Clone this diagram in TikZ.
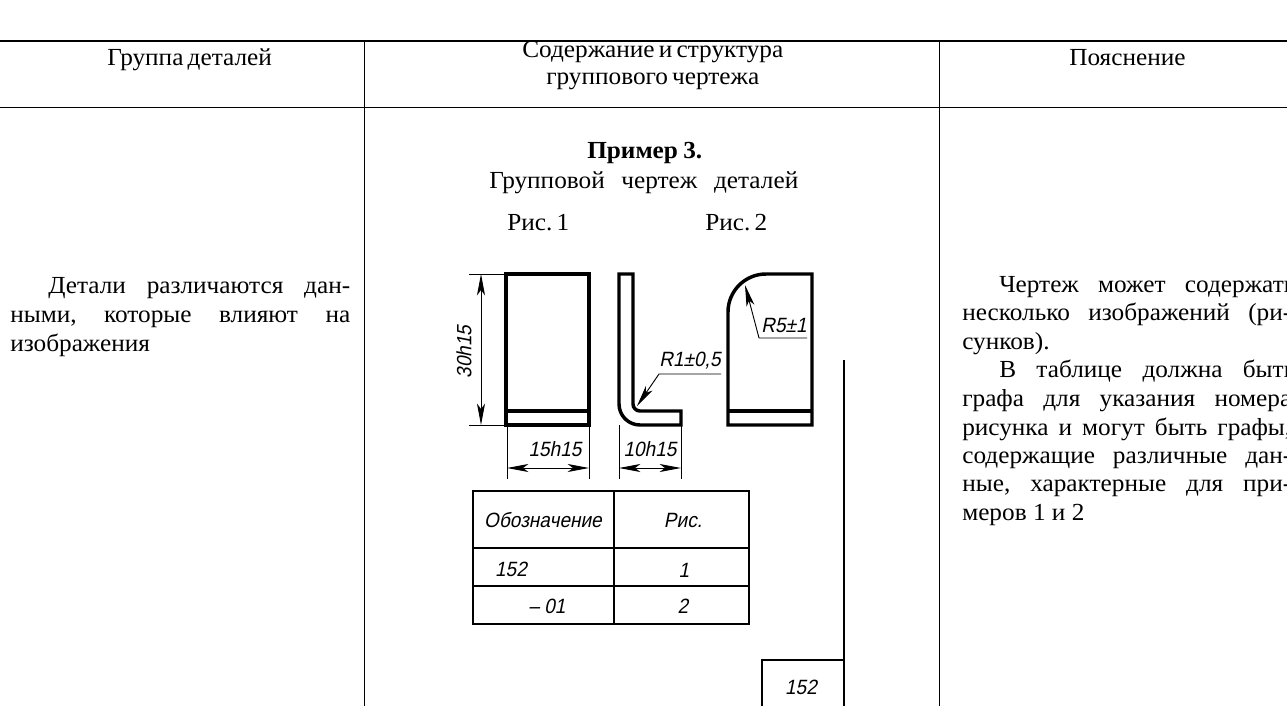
\documentclass[tikz,border=0pt]{standalone}
\usepackage{fontspec}
\setmainfont[FakeStretch=1.03]{Liberation Serif}
\newfontfamily\gostfont[FakeStretch=0.92,FakeSlant=0.2]{Liberation Sans}
\usetikzlibrary{arrows.meta}
\newdimen\pxunit
\pxunit=0.75pt
\newcommand{\fitline}[2]{\hbox to #1\pxunit{#2}}
\tikzset{
    txt/.style={inner sep=0pt, anchor=base west, font=\fontsize{18.4pt}{23pt}\selectfont\frenchspacing},
    gost/.style={inner sep=0pt, font=\gostfont\fontsize{15.5pt}{18pt}\selectfont},
    contour/.style={line width=2.6pt, line join=miter},
    thinline/.style={line width=0.75pt},
    dim/.style={line width=0.7pt, {Stealth[length=16pt,width=6pt,inset=4pt]}-{Stealth[length=16pt,width=6pt,inset=4pt]}},
    leader/.style={line width=0.7pt, {Stealth[length=16pt,width=6pt,inset=4pt]}-},
}
\begin{document}
\begin{tikzpicture}[x=0.75pt, y=-0.75pt]
    \useasboundingbox (0,0) rectangle (1287,706);

    % table frame
    \draw[line width=1.6pt] (0,41) -- (1287,41);
    \draw[thinline] (0,108) -- (1287,108);
    \draw[thinline] (364,41) -- (364,706);
    \draw[thinline] (939,41) -- (939,706);

    % header
    \node[txt] (headA) at (107,66) {\fitline{159}{Группа деталей}};
    \node[txt] (headB) at (522,58) {\fitline{256}{Содержание и структура}};
    \node[txt] (headBb) at (546,85) {\fitline{208}{группового чертежа}};
    \node[txt] (headC) at (1069,66) {Пояснение};

    % left column
    \node[txt] (leftA) at (48,293) {\fitline{302}{Детали различаются дан-}};
    \node[txt] (leftB) at (10,322) {\fitline{340}{ными, которые влияют на}};
    \node[txt] (leftC) at (10,351) {изображения};

    % example title
    \node[txt, font=\fontsize{18.4pt}{23pt}\selectfont\bfseries] (exTitle) at (587,158) {\fitline{115}{Пример 3.}};
    \node[txt] (exSub) at (489,188) {\fitline{309}{Групповой чертеж деталей}};
    \node[txt] (figA) at (507,230) {\fitline{60}{Рис. 1}};
    \node[txt] (figB) at (705,230) {\fitline{62}{Рис. 2}};

    % first part
    \draw[contour] (506,274) rectangle (589,425);
    \draw[contour] (506,411) -- (589,411);

    % second part
    \draw[contour] (619,274) -- (633,274) -- (633,404) arc[start angle=180, end angle=90, radius=7]
        -- (681,411) -- (681,425) -- (640,425) arc[start angle=90, end angle=180, radius=21] -- cycle;

    % third part
    \draw[contour] (728,312) arc[start angle=180, end angle=270, radius=38] -- (812,274) -- (812,425) -- (728,425) -- cycle;
    \draw[contour] (728,411) -- (812,411);

    % dimensions
    \draw[thinline] (469,274) -- (506,274);
    \draw[thinline] (469,425) -- (506,425);
    \draw[dim] (481,274) -- (481,425);
    \node[gost, rotate=90] (dimH) at (464,352) {30h15};

    \draw[thinline] (507,425) -- (507,479);
    \draw[thinline] (589,425) -- (589,479);
    \draw[dim] (507,468) -- (589,468);
    \node[gost] (dimA) at (555,449) {15h15};

    \draw[thinline] (619,425) -- (619,479);
    \draw[thinline] (681,425) -- (681,479);
    \draw[dim] (619,468) -- (681,468);
    \node[gost] (dimB) at (650,449) {10h15};

    \draw[leader] (637,406) -- (659,374) -- (721,374);
    \node[gost] (radA) at (690,361) {R1±0,5};
    \draw[leader] (745,285) -- (759,338) -- (807,338);
    \node[gost] (radB) at (784,325) {R5±1};

    % small table
    \draw[line width=1.3pt] (473,491) rectangle (749,624);
    \draw[line width=1.3pt] (473,548) -- (749,548);
    \draw[line width=0.8pt] (473,586) -- (749,586);
    \draw[line width=1.3pt] (614,491) -- (614,624);
    \node[gost] (tblA) at (543,520) {Обозначение};
    \node[gost] (tblB) at (683,520) {Рис.};
    \node[gost] (tblC) at (511,569) {152};
    \node[gost] (tblD) at (547,606) {– 01};
    \node[gost] (tblE) at (684,570) {1};
    \node[gost] (tblF) at (683,606) {2};

    % stamp
    \draw[line width=1.6pt] (844,360) -- (844,706);
    \draw[line width=1.3pt] (762,706) -- (762,660) -- (844,660);
    \node[gost] (stamp) at (801,687) {152};

    % right column
    \node[txt] (rightA) at (999,292) {\fitline{296}{Чертеж может содержать}};
    \node[txt] (rightB) at (962,320) {\fitline{329}{несколько изображений (ри-}};
    \node[txt] (rightC) at (962,349) {сунков).};
    \node[txt] (rightD) at (999,377) {\fitline{296}{В таблице должна быть}};
    \node[txt] (rightE) at (962,406) {\fitline{329}{графа для указания номера}};
    \node[txt] (rightF) at (962,435) {\fitline{329}{рисунка и могут быть графы,}};
    \node[txt] (rightG) at (962,463) {\fitline{329}{содержащие различные дан-}};
    \node[txt] (rightH) at (962,491) {\fitline{329}{ные, характерные для при-}};
    \node[txt] (rightI) at (962,520) {меров 1 и 2};
\end{tikzpicture}
\end{document}
